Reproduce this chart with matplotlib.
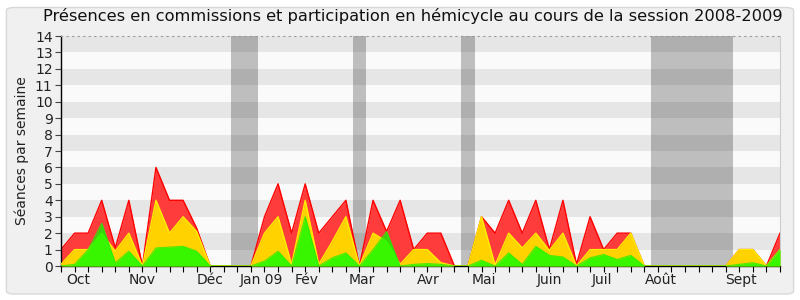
import numpy as np
import matplotlib
matplotlib.use("Agg")
import matplotlib.pyplot as plt
from matplotlib.patches import FancyBboxPatch
from matplotlib.transforms import blended_transform_factory

# --- Data (one value per week, week 0 = end of Sept 2008) ---
WEEKS = np.arange(54)

PRESENCES = [1, 2, 2, 4, 1.1, 4, 0, 6, 4, 4,
             2.3, 0, 0, 0, 0, 3, 5, 2, 5, 2,
             3, 4, 0, 4, 2.1, 4, 1, 2, 2, 0,
             0, 3, 2, 4, 2, 4, 1, 4, 0.1, 3,
             1, 2, 2, 0, 0, 0, 0, 0, 0, 0,
             1, 1, 0, 2]
PARTICIPATIONS = [0.1, 1, 1, 2, 0.9, 2, 0, 4, 2, 3,
                  2.1, 0, 0, 0, 0, 2, 3, 0.1, 4, 0.1,
                  1.5, 3, 0, 2, 1.5, 0.1, 1, 1, 0.2, 0,
                  0, 3, 0.05, 2, 1.1, 2, 0.95, 2, 0, 1,
                  1, 1, 2, 0, 0, 0, 0, 0, 0, 0,
                  1, 1, 0, 1]
COMMISSIONS = [0, 0.1, 1, 2.6, 0.2, 0.9, 0, 1.1, 1.15, 1.2,
               0.9, 0, 0, 0, 0, 0.3, 0.9, 0, 3, 0,
               0.5, 0.8, 0, 1, 2.1, 0, 0.1, 0.15, 0.1, 0,
               0, 0.35, 0, 0.8, 0.1, 1.2, 0.65, 0.55, 0, 0.5,
               0.7, 0.4, 0.65, 0, 0, 0, 0, 0, 0, 0,
               0.1, 0.2, 0, 1]

# parliamentary holidays, in weeks
VACANCES = [(12.5, 14.5), (21.5, 22.5), (29.5, 30.5), (43.5, 49.5)]

MONTH_LABELS = ["Oct", "Nov", "Déc", "Jan 09", "Fév", "Mar", "Avr",
                "Mai", "Juin", "Juil", "Août", "Sept"]
MONTH_POS = [1.25, 6.0, 11.0, 14.75, 18.1, 22.2, 27.1,
             31.2, 36.0, 39.9, 44.2, 50.1]

Y_MAX = 14
TITLE = "Présences en commissions et participation en hémicycle au cours de la session 2008-2009"


def draw_background(ax):
    """Alternating horizontal stripes + grey holiday bands."""
    for k in range(Y_MAX):
        color = "#e6e6e6" if k % 2 == 1 else "#fafafa"
        ax.axhspan(k, k + 1, color=color, lw=0, zorder=0)
    for start, end in VACANCES:
        ax.axvspan(start, end, color="black", alpha=0.24, lw=0, zorder=1)


def draw_series(ax):
    ax.fill_between(WEEKS, 0, PRESENCES, color="#ff3c3c", lw=0, zorder=2)
    ax.plot(WEEKS, PRESENCES, color="#ff0000", lw=1.0, zorder=2.1)
    ax.fill_between(WEEKS, 0, PARTICIPATIONS, color="#ffd200", lw=0, zorder=3)
    ax.plot(WEEKS, PARTICIPATIONS, color="#ffee00", lw=1.0, zorder=3.1)
    ax.fill_between(WEEKS, 0, COMMISSIONS, color="#00ff00", alpha=0.78, lw=0, zorder=4)
    ax.plot(WEEKS, COMMISSIONS, color="#22ee00", lw=0.8, alpha=0.8, zorder=4.1)


def main():
    fig = plt.figure(figsize=(8, 3), dpi=100)
    fig.patch.set_facecolor("white")
    frame = FancyBboxPatch((0.008, 0.02), 0.984, 0.955,
                           boxstyle="round,pad=0,rounding_size=0.01",
                           transform=fig.transFigure, facecolor="#f0f0f0",
                           edgecolor="#d8d8d8", lw=1, zorder=-10)
    fig.patches.append(frame)

    ax = fig.add_axes([0.07625, 0.1133, 0.89875, 0.7667])
    ax.set_zorder(5)
    draw_background(ax)
    draw_series(ax)

    ax.set_xlim(0, WEEKS[-1])
    ax.set_ylim(0, Y_MAX)

    ax.set_yticks(range(Y_MAX + 1))
    ax.tick_params(axis="y", labelsize=10, length=4, color="#444444",
                   labelcolor="#222222", pad=2)
    ax.set_xticks(WEEKS)
    ax.set_xticklabels([])
    ax.tick_params(axis="x", length=4, color="black", direction="out")

    trans = blended_transform_factory(ax.transData, ax.transAxes)
    for label, pos in zip(MONTH_LABELS, MONTH_POS):
        ax.text(pos, -0.03, label, transform=trans, ha="center", va="top",
                fontsize=10, color="#222222")

    for side in ["left", "bottom"]:
        ax.spines[side].set_color("black")
        ax.spines[side].set_linewidth(1)
    ax.spines["top"].set_color("#999999")
    ax.spines["top"].set_linestyle((0, (1, 4)))
    ax.spines["right"].set_color("#cccccc")

    ax.set_ylabel("Séances par semaine", fontsize=10, color="#222222", labelpad=4)
    fig.text(0.516, 0.945, TITLE, ha="center", va="center", fontsize=11.7,
             color="#111111")

    fig.savefig("out.png", dpi=100, facecolor=fig.get_facecolor())


if __name__ == "__main__":
    main()
